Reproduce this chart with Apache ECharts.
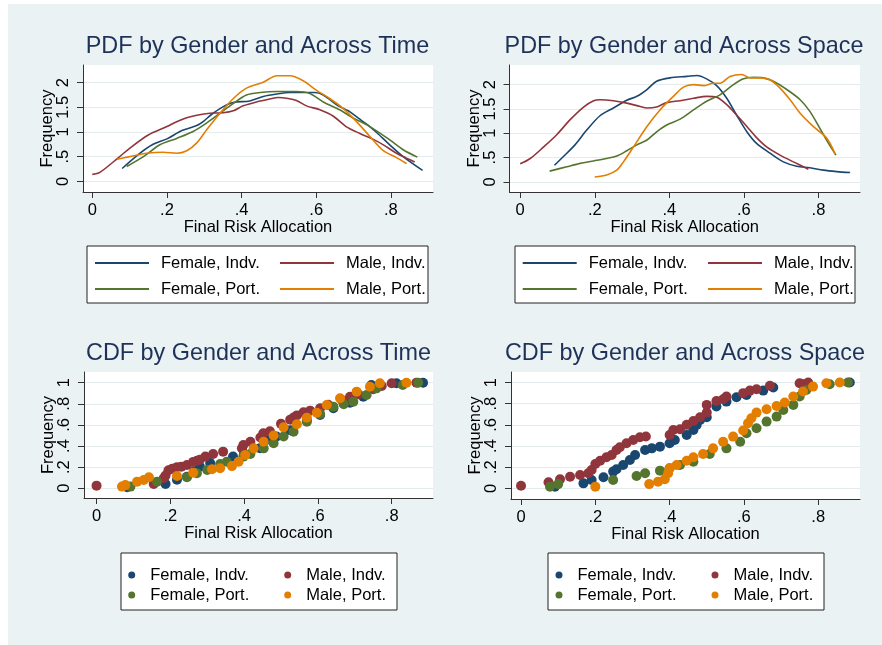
<!DOCTYPE html>
<html><head><meta charset="utf-8">
<script src="https://cdn.jsdelivr.net/npm/echarts@6/dist/echarts.min.js"></script>
<style>
html,body{margin:0;padding:0;background:#fff;}
#bg{position:absolute;left:8px;top:4px;width:874px;height:641px;background:#eaf2f3;}
#chart{position:absolute;left:0;top:0;width:882px;height:645px;}
</style></head><body>
<div id="bg"></div><div id="chart"></div>
<script>
// ---------- DATA ----------
const seriesNames = ['Female, Indv.', 'Male, Indv.', 'Female, Port.', 'Male, Port.'];
const panelTitles = ['PDF by Gender and Across Time', 'PDF by Gender and Across Space',
                     'CDF by Gender and Across Time', 'CDF by Gender and Across Space'];
const xAxisTitle = 'Final Risk Allocation';
const yAxisTitle = 'Frequency';
const xTicks = [0, 0.2, 0.4, 0.6, 0.8];
const xTickLabels = ['0', '.2', '.4', '.6', '.8'];
const pdfYTicks = [0, 0.5, 1, 1.5, 2];
const pdfYTickLabels = ['0', '.5', '1', '1.5', '2'];
const cdfYTicks = [0, 0.2, 0.4, 0.6, 0.8, 1];
const cdfYTickLabels = ['0', '.2', '.4', '.6', '.8', '1'];

// PDF across time
const pdfTimeFI = [[0.08,0.26],[0.128,0.57],[0.163,0.75],[0.2,0.86],[0.24,1.03],[0.28,1.13],[0.297,1.21],[0.32,1.36],[0.35,1.51],[0.378,1.60],[0.422,1.63],[0.458,1.72],[0.494,1.77],[0.53,1.80],[0.565,1.80],[0.596,1.80],[0.619,1.75],[0.659,1.53],[0.686,1.43],[0.713,1.28],[0.735,1.16],[0.762,0.99],[0.797,0.74],[0.833,0.50],[0.885,0.22]];
const pdfTimeMI = [[0,0.14],[0.02,0.18],[0.07,0.48],[0.10,0.67],[0.15,0.94],[0.2,1.11],[0.226,1.21],[0.253,1.29],[0.28,1.34],[0.315,1.38],[0.35,1.39],[0.378,1.43],[0.404,1.53],[0.44,1.61],[0.476,1.67],[0.498,1.70],[0.525,1.68],[0.547,1.64],[0.574,1.53],[0.61,1.45],[0.646,1.32],[0.68,1.11],[0.717,0.97],[0.753,0.85],[0.78,0.74],[0.815,0.57],[0.842,0.47],[0.864,0.39]];
const pdfTimeFP = [[0.092,0.30],[0.137,0.50],[0.181,0.74],[0.226,0.87],[0.27,1.01],[0.306,1.18],[0.342,1.38],[0.378,1.58],[0.413,1.75],[0.45,1.80],[0.494,1.82],[0.547,1.82],[0.583,1.78],[0.619,1.61],[0.663,1.45],[0.70,1.28],[0.744,1.11],[0.797,0.84],[0.833,0.64],[0.871,0.49]];
const pdfTimeMP = [[0.067,0.45],[0.10,0.50],[0.146,0.57],[0.19,0.59],[0.226,0.57],[0.253,0.62],[0.28,0.78],[0.306,1.04],[0.342,1.38],[0.378,1.68],[0.413,1.89],[0.458,2.01],[0.494,2.14],[0.53,2.14],[0.565,2.04],[0.60,1.85],[0.636,1.68],[0.672,1.48],[0.708,1.21],[0.744,0.91],[0.78,0.62],[0.815,0.48],[0.842,0.36]];

// PDF across space
const pdfSpaceFI = [[0.092,0.34],[0.116,0.52],[0.147,0.76],[0.179,1.07],[0.214,1.36],[0.25,1.52],[0.286,1.68],[0.313,1.76],[0.34,1.90],[0.366,2.07],[0.402,2.14],[0.447,2.17],[0.474,2.19],[0.5,2.12],[0.527,1.98],[0.554,1.72],[0.58,1.38],[0.608,1.03],[0.634,0.79],[0.67,0.59],[0.706,0.41],[0.742,0.32],[0.777,0.29],[0.813,0.24],[0.849,0.21],[0.885,0.19]];
const pdfSpaceMI = [[0,0.37],[0.027,0.48],[0.063,0.72],[0.098,0.97],[0.134,1.28],[0.17,1.54],[0.197,1.67],[0.214,1.69],[0.25,1.67],[0.286,1.62],[0.322,1.55],[0.34,1.52],[0.366,1.54],[0.393,1.63],[0.429,1.67],[0.465,1.72],[0.5,1.76],[0.527,1.74],[0.554,1.59],[0.58,1.38],[0.608,1.14],[0.634,0.91],[0.661,0.72],[0.697,0.55],[0.733,0.41],[0.773,0.26]];
const pdfSpaceFP = [[0.079,0.22],[0.125,0.31],[0.161,0.38],[0.197,0.43],[0.232,0.48],[0.259,0.53],[0.286,0.64],[0.313,0.76],[0.34,0.86],[0.366,1.03],[0.393,1.17],[0.429,1.29],[0.465,1.48],[0.5,1.66],[0.536,1.79],[0.572,2.00],[0.599,2.12],[0.626,2.15],[0.652,2.14],[0.679,2.07],[0.715,1.90],[0.751,1.69],[0.777,1.45],[0.804,1.10],[0.827,0.79],[0.847,0.55]];
const pdfSpaceMP = [[0.2,0.10],[0.232,0.14],[0.259,0.24],[0.277,0.41],[0.304,0.72],[0.34,1.14],[0.375,1.48],[0.411,1.76],[0.438,1.95],[0.465,2.00],[0.492,1.98],[0.518,2.03],[0.536,2.03],[0.563,2.17],[0.594,2.21],[0.617,2.14],[0.643,2.14],[0.67,2.10],[0.697,1.93],[0.724,1.69],[0.751,1.41],[0.786,1.14],[0.822,0.90],[0.845,0.57]];

// CDF across time
const cdfTimeFI = [[0.083,0.01],[0.187,0.04],[0.218,0.08],[0.245,0.11],[0.264,0.158],[0.28,0.205],[0.308,0.24],[0.37,0.30],[0.40,0.33],[0.443,0.38],[0.46,0.457],[0.488,0.49],[0.525,0.55],[0.57,0.647],[0.606,0.694],[0.642,0.757],[0.687,0.81],[0.723,0.867],[0.745,0.978],[0.813,0.994],[0.885,1.0]];
const cdfTimeMI = [[0,0.025],[0.155,0.04],[0.182,0.095],[0.187,0.12],[0.195,0.17],[0.205,0.185],[0.218,0.2],[0.23,0.205],[0.245,0.22],[0.262,0.25],[0.272,0.26],[0.28,0.27],[0.295,0.30],[0.316,0.325],[0.343,0.347],[0.394,0.378],[0.398,0.41],[0.417,0.44],[0.444,0.48],[0.452,0.52],[0.47,0.54],[0.5,0.61],[0.525,0.65],[0.534,0.67],[0.543,0.69],[0.561,0.72],[0.579,0.735],[0.606,0.757],[0.628,0.79],[0.665,0.836],[0.687,0.867],[0.71,0.89],[0.75,0.937],[0.773,0.968],[0.8,0.995],[0.867,1.0]];
const cdfTimeFP = [[0.092,0.016],[0.164,0.063],[0.245,0.104],[0.272,0.142],[0.30,0.173],[0.335,0.23],[0.353,0.252],[0.398,0.30],[0.417,0.325],[0.453,0.378],[0.48,0.426],[0.507,0.49],[0.534,0.536],[0.57,0.63],[0.606,0.703],[0.642,0.773],[0.67,0.795],[0.696,0.82],[0.732,0.883],[0.759,0.946],[0.83,0.978],[0.872,1.0]];
const cdfTimeMP = [[0.069,0.016],[0.078,0.03],[0.11,0.063],[0.128,0.079],[0.142,0.104],[0.218,0.117],[0.262,0.148],[0.313,0.18],[0.335,0.19],[0.367,0.21],[0.385,0.252],[0.403,0.315],[0.426,0.378],[0.453,0.44],[0.48,0.50],[0.507,0.577],[0.543,0.606],[0.57,0.669],[0.597,0.716],[0.624,0.789],[0.66,0.852],[0.705,0.915],[0.741,0.962],[0.768,0.994],[0.84,1.0]];

// CDF across space
const cdfSpaceFI = [[0.091,0.016],[0.168,0.047],[0.19,0.079],[0.222,0.104],[0.248,0.158],[0.257,0.18],[0.275,0.22],[0.293,0.268],[0.307,0.315],[0.334,0.363],[0.352,0.378],[0.374,0.394],[0.40,0.426],[0.414,0.457],[0.446,0.505],[0.464,0.552],[0.473,0.60],[0.482,0.647],[0.50,0.672],[0.526,0.773],[0.553,0.82],[0.58,0.861],[0.607,0.883],[0.652,0.924],[0.679,0.953],[0.76,0.984],[0.885,1.0]];
const cdfSpaceMI = [[0,0.025],[0.074,0.057],[0.105,0.085],[0.132,0.11],[0.159,0.126],[0.181,0.142],[0.19,0.174],[0.20,0.23],[0.213,0.26],[0.23,0.293],[0.244,0.315],[0.257,0.363],[0.266,0.388],[0.284,0.426],[0.302,0.457],[0.32,0.483],[0.336,0.49],[0.40,0.505],[0.41,0.552],[0.428,0.558],[0.446,0.60],[0.464,0.637],[0.482,0.672],[0.50,0.716],[0.50,0.789],[0.526,0.826],[0.544,0.842],[0.553,0.868],[0.598,0.90],[0.616,0.924],[0.634,0.937],[0.67,0.97],[0.75,0.994],[0.773,1.0]];
const cdfSpaceFP = [[0.078,0.016],[0.10,0.04],[0.248,0.079],[0.311,0.117],[0.334,0.142],[0.374,0.167],[0.40,0.19],[0.428,0.22],[0.464,0.252],[0.508,0.325],[0.553,0.378],[0.59,0.44],[0.607,0.52],[0.634,0.568],[0.661,0.631],[0.688,0.678],[0.706,0.741],[0.733,0.789],[0.75,0.868],[0.768,0.93],[0.831,0.984],[0.88,1.0]];
const cdfSpaceMP = [[0.2,0.016],[0.345,0.04],[0.369,0.063],[0.387,0.085],[0.396,0.142],[0.40,0.19],[0.419,0.22],[0.446,0.26],[0.464,0.293],[0.49,0.325],[0.517,0.378],[0.544,0.44],[0.571,0.489],[0.598,0.546],[0.611,0.615],[0.62,0.662],[0.634,0.716],[0.661,0.748],[0.688,0.779],[0.71,0.811],[0.733,0.868],[0.759,0.915],[0.786,0.962],[0.822,0.994],[0.858,1.0]];

// ---------- STYLE / LAYOUT ----------
const colors = ['#1a476f', '#90353b', '#55752f', '#e37e00'];
const FONT = 'Liberation Sans, Arial, sans-serif';
const FS = 16.5;
const panelData = [
  [pdfTimeFI, pdfTimeMI, pdfTimeFP, pdfTimeMP],
  [pdfSpaceFI, pdfSpaceMI, pdfSpaceFP, pdfSpaceMP],
  [cdfTimeFI, cdfTimeMI, cdfTimeFP, cdfTimeMP],
  [cdfSpaceFI, cdfSpaceMI, cdfSpaceFP, cdfSpaceMP]
];
const layout = [
  {grid: [83, 65, 350, 127], x: [-0.025, 0.913], y: [-0.217, 2.359], kind: 'pdf', tc: 257.5, tt: 35,
   box: [87, 246, 341, 57], cols: [95, 280], rows: [254.5, 280.5]},
  {grid: [509.5, 65, 350.5, 127], x: [-0.0287, 0.9115], y: [-0.21, 2.405], kind: 'pdf', tc: 684, tt: 35,
   box: [515, 246, 340, 57], cols: [522.7, 708], rows: [254.5, 280.5]},
  {grid: [84, 372, 349, 126], x: [-0.034, 0.912], y: [-0.092, 1.101], kind: 'cdf', tc: 258.5, tt: 342,
   box: [121, 553, 276, 57], cols: [128.2, 284.2], rows: [566.5, 586.5]},
  {grid: [511, 372, 349, 127], x: [-0.027, 0.9125], y: [-0.101, 1.10], kind: 'cdf', tc: 685, tt: 342,
   box: [548, 553, 276, 57], cols: [555.5, 711.5], rows: [566.5, 586.5]}
];

function fmt(ticks, labels) {
  return function (v) {
    const i = ticks.findIndex(t => Math.abs(t - v) < 1e-9);
    return i >= 0 ? labels[i] : '';
  };
}

const grids = [], xAxes = [], yAxes = [], series = [], titles = [], legends = [], graphics = [];
const axisColor = '#333';
layout.forEach((p, i) => {
  const isPdf = p.kind === 'pdf';
  const yT = isPdf ? pdfYTicks : cdfYTicks;
  const yL = isPdf ? pdfYTickLabels : cdfYTickLabels;
  grids.push({left: p.grid[0], top: p.grid[1], width: p.grid[2], height: p.grid[3],
    show: true, backgroundColor: '#ffffff', borderWidth: 0, containLabel: false, outerBoundsMode: 'none'});
  xAxes.push({gridIndex: i, type: 'value', min: p.x[0], max: p.x[1],
    name: xAxisTitle, nameLocation: 'middle', nameGap: 27, nameMoveOverlap: false,
    nameTextStyle: {fontFamily: FONT, fontSize: FS, color: '#000'},
    axisLine: {show: true, onZero: false, lineStyle: {color: axisColor, width: 1}},
    axisTick: {show: true, length: 6, customValues: xTicks, lineStyle: {color: axisColor, width: 1}},
    axisLabel: {show: true, customValues: xTicks, formatter: fmt(xTicks, xTickLabels), margin: 10,
      fontFamily: FONT, fontSize: FS, color: '#000', showMinLabel: true, showMaxLabel: true, hideOverlap: false},
    splitLine: {show: false}});
  yAxes.push({gridIndex: i, type: 'value', min: p.y[0], max: p.y[1],
    name: yAxisTitle, nameLocation: 'middle', nameGap: 27, nameRotate: 90, nameMoveOverlap: false,
    nameTextStyle: {fontFamily: FONT, fontSize: FS, color: '#000'},
    axisLine: {show: true, onZero: false, lineStyle: {color: axisColor, width: 1}},
    axisTick: {show: true, length: 6, customValues: yT, lineStyle: {color: axisColor, width: 1}},
    axisLabel: {show: true, rotate: 90, customValues: yT, formatter: fmt(yT, yL), margin: 11,
      fontFamily: FONT, fontSize: FS, color: '#000', showMinLabel: true, showMaxLabel: true, hideOverlap: false},
    splitLine: {show: true, lineStyle: {color: '#e3ebed', width: 1}}});
  titles.push({text: panelTitles[i], left: p.tc, top: p.tt, textAlign: 'center', padding: 0,
    textStyle: {fontFamily: FONT, fontSize: 23.4, fontWeight: 'normal', color: '#1e3259'}});
  panelData[i].forEach((d, k) => {
    if (isPdf) {
      series.push({type: 'line', name: seriesNames[k], xAxisIndex: i, yAxisIndex: i, data: d,
        smooth: 0.3, symbol: 'none', showSymbol: false, color: colors[k],
        lineStyle: {color: colors[k], width: 1.6}, z: 3});
    } else {
      series.push({type: 'scatter', name: seriesNames[k], xAxisIndex: i, yAxisIndex: i, data: d,
        symbol: 'circle', symbolSize: 10, color: colors[k], itemStyle: {color: colors[k], opacity: 1}, z: 3});
    }
  });
  graphics.push({type: 'rect', shape: {x: p.box[0], y: p.box[1], width: p.box[2], height: p.box[3]},
    style: {fill: '#ffffff', stroke: '#222', lineWidth: 1}, z: 0});
  seriesNames.forEach((nm, k) => {
    const col = k % 2, row = Math.floor(k / 2);
    legends.push({data: [nm], left: p.cols[col], top: p.rows[row], padding: 0, selectedMode: false,
      orient: 'horizontal',
      icon: isPdf ? 'rect' : 'circle',
      itemWidth: isPdf ? 54 : 7, itemHeight: isPdf ? 2 : 7,
      itemStyle: {color: colors[k]},
      textStyle: {fontFamily: FONT, fontSize: FS, color: '#000', padding: [0, 0, 0, isPdf ? 7 : 10]}});
  });
});

const chart = echarts.init(document.getElementById('chart'), null, {renderer: 'canvas'});
chart.setOption({
  backgroundColor: 'transparent',
  animation: false,
  title: titles,
  grid: grids,
  xAxis: xAxes,
  yAxis: yAxes,
  legend: legends,
  graphic: graphics,
  series: series
});
</script></body></html>
